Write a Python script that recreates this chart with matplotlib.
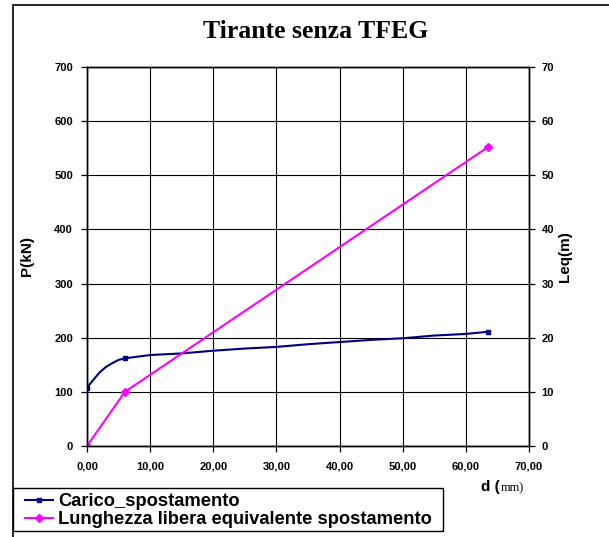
import matplotlib.pyplot as plt
from matplotlib.patches import Rectangle

# Data
d_carico = [0, 1, 2, 3, 4, 5, 6, 10, 15, 20, 25, 30, 35, 40, 45, 50, 55, 60, 63.5]
p_carico = [108, 122, 136, 146, 153, 159, 162, 168, 171, 176, 180, 183, 188, 192, 196, 199, 204, 207, 211]
carico_markers = [0, 6, 18]

d_leq = [0, 6, 63.5]
leq = [0, 10, 55.2]

x_ticks = [0, 10, 20, 30, 40, 50, 60, 70]
x_labels = ['0,00', '10,00', '20,00', '30,00', '40,00', '50,00', '60,00', '70,00']
p_ticks = [0, 100, 200, 300, 400, 500, 600, 700]
leq_ticks = [0, 10, 20, 30, 40, 50, 60, 70]

W, H = 609, 537
fig = plt.figure(figsize=(W / 100, H / 100), dpi=100)

# outer chart border (only left and top are visible in the original)
fig.patches.append(Rectangle((13 / W, -0.2), 1.2, 1.2 - 5 / H, transform=fig.transFigure,
                             fill=False, edgecolor='black', lw=1.2))
# legend box
fig.patches.append(Rectangle((13 / W, 1 - 531 / H), (443 - 13) / W, (531 - 488) / H,
                             transform=fig.transFigure, fill=False, edgecolor='black', lw=1.0))

ax = fig.add_axes([87 / W, 1 - 446 / H, (529 - 87) / W, (446 - 67) / H])
ax2 = ax.twinx()

ax.set_xlim(0, 70)
ax.set_ylim(0, 700)
ax2.set_ylim(0, 70)

ax.set_xticks(x_ticks)
ax.set_xticklabels(x_labels)
ax.set_yticks(p_ticks)
ax2.set_yticks(leq_ticks)

ax.grid(True, color='black', lw=0.8)
ax.set_axisbelow(True)

for a in (ax, ax2):
    a.tick_params(labelsize=8, length=4, width=0.9, pad=4)
    for lab in a.get_xticklabels() + a.get_yticklabels():
        lab.set_fontweight('bold')
        lab.set_family('Liberation Sans')
    for s in a.spines.values():
        s.set_linewidth(1.0)
ax.tick_params(axis='x', pad=7)
ax.tick_params(axis='y', pad=6)
ax2.tick_params(axis='y', pad=5)

l1, = ax.plot(d_carico, p_carico, color='#000080', lw=1.5, marker='s', ms=3,
              markevery=carico_markers, label='Carico_spostamento')
l2, = ax2.plot(d_leq, leq, color='#ff00ff', lw=1.5, marker='D', ms=4.5,
               label='Lunghezza libera equivalente spostamento')

ax.set_ylabel('P(kN)', fontsize=11, fontweight='bold', family='Liberation Sans', labelpad=15)
ax2.set_ylabel('Leq(m)', fontsize=11, fontweight='bold', family='Liberation Sans', labelpad=3)

fig.text(316 / W, 1 - 31 / H, 'Tirante senza TFEG', ha='center', va='center',
         fontsize=18.5, fontweight='bold', family='Liberation Serif')

fig.text(500 / W, 1 - 487 / H, 'd (', ha='right', va='center', fontsize=11,
         fontweight='bold', family='Liberation Sans')
fig.text(501 / W, 1 - 488 / H, 'mm)', ha='left', va='center', fontsize=9,
         family='Liberation Serif')

leg = fig.legend(handles=[l1, l2], loc='upper left', bbox_to_anchor=(25 / W, 1 - 493 / H),
                 bbox_transform=fig.transFigure, borderaxespad=0, frameon=False,
                 handlelength=1.5, handletextpad=0.3, labelspacing=0.05,
                 borderpad=0, prop={'family': 'Liberation Sans', 'weight': 'bold', 'size': 13.2})

fig.savefig('out.png', dpi=100)
